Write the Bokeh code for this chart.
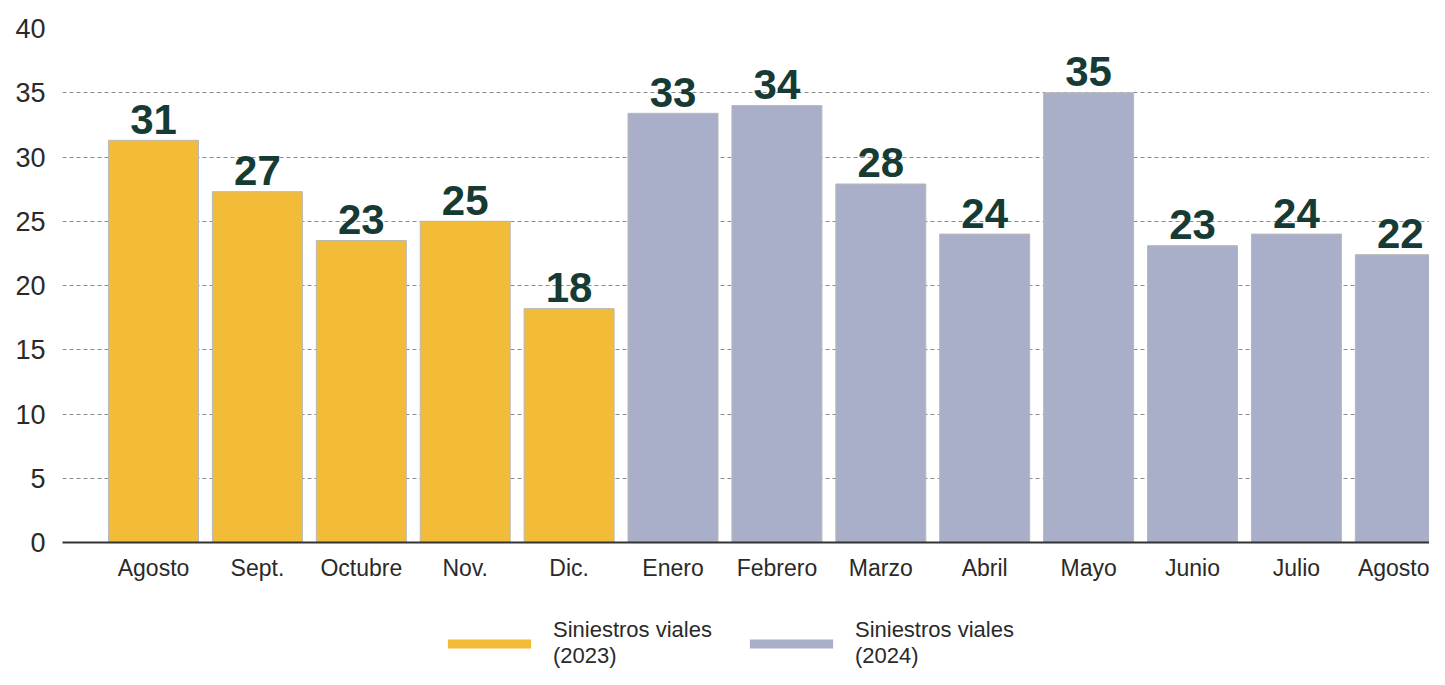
import pandas as pd
from bokeh.plotting import figure
from bokeh.layouts import column
from bokeh.models import ColumnDataSource, Range1d, FixedTicker, Legend, LegendItem
from bokeh.core.properties import value
from bokeh.embed import file_html
from bokeh.resources import INLINE

# ---- data ----
months = ["Agosto", "Sept.", "Octubre", "Nov.", "Dic.", "Enero", "Febrero",
          "Marzo", "Abril", "Mayo", "Junio", "Julio", "Agosto"]
values = [31.3, 27.3, 23.5, 25.0, 18.2, 33.4, 34.0, 27.9, 24.0, 35.0, 23.1, 24.0, 22.4]
value_labels = ["31", "27", "23", "25", "18", "33", "34", "28", "24", "35", "23", "24", "22"]
years = ["2023"] * 5 + ["2024"] * 8
series_order = ["2023", "2024"]
series_names = {"2023": "Siniestros viales\n(2023)", "2024": "Siniestros viales\n(2024)"}
series_colors = {"2023": "#F2BC38", "2024": "#A9AFC8"}
y_ticks = [0, 5, 10, 15, 20, 25, 30, 35, 40]

FONT = "Liberation Sans"
W = 1429

df = pd.DataFrame({
    "x": list(range(len(months))),
    "value": values,
    "label": value_labels,
    "year": years,
})

p = figure(width=W, height=594, output_backend="svg", toolbar_location=None,
           x_range=Range1d(-0.876, 12.281), y_range=Range1d(0, 40),
           min_border_left=62, min_border_right=0, min_border_top=28,
           min_border_bottom=52)
p.outline_line_color = None
p.background_fill_color = "white"
p.border_fill_color = "white"

for yr in series_order:
    src = ColumnDataSource(df[df["year"] == yr])
    p.vbar(x="x", top="value", width=0.866, source=src,
           fill_color=series_colors[yr], line_color="#b8b8b8", line_width=1)

lab_src = ColumnDataSource(df)
p.text(x="x", y="value", text="label", source=lab_src,
       text_align="center", text_baseline="alphabetic", y_offset=-21,
       text_font=value(FONT), text_font_style="bold", text_font_size="42px",
       text_color="#163B35")

# grid
p.xgrid.grid_line_color = None
p.ygrid.ticker = FixedTicker(ticks=y_ticks)
p.ygrid.grid_line_color = "#8c8c8c"
p.ygrid.grid_line_dash = "4 3"
p.ygrid.grid_line_width = 1

# y axis
p.yaxis.ticker = FixedTicker(ticks=y_ticks)
p.yaxis.axis_line_color = None
p.yaxis.major_tick_line_color = None
p.yaxis.minor_tick_line_color = None
p.yaxis.major_tick_in = 0
p.yaxis.major_tick_out = 0
p.yaxis.major_label_standoff = 17
p.yaxis.major_label_text_font = FONT
p.yaxis.major_label_text_font_size = "27px"
p.yaxis.major_label_text_color = "#2a2a2a"

# x axis
p.xaxis.ticker = FixedTicker(ticks=list(range(len(months))))
p.xaxis.major_label_overrides = {i: m for i, m in enumerate(months)}
p.xaxis.axis_line_color = "#333333"
p.xaxis.axis_line_width = 2
p.xaxis.major_tick_line_color = None
p.xaxis.minor_tick_line_color = None
p.xaxis.major_tick_in = 0
p.xaxis.major_tick_out = 0
p.xaxis.major_label_standoff = 12
p.xaxis.major_label_text_font = FONT
p.xaxis.major_label_text_font_size = "23px"
p.xaxis.major_label_text_color = "#2a2a2a"

# ---- legend strip below the chart ----
lg = figure(width=W, height=75, output_backend="svg", toolbar_location=None,
            x_range=Range1d(0, 1), y_range=Range1d(-2, -1),
            x_axis_location=None, y_axis_location=None,
            min_border_left=0, min_border_right=0, min_border_top=0,
            min_border_bottom=0)
lg.outline_line_color = None
lg.xgrid.grid_line_color = None
lg.ygrid.grid_line_color = None
lg_renderers = {}
for yr in series_order:
    # same series, hidden: only their legend swatches show
    lg_renderers[yr] = lg.vbar(x="x", top="value", width=0.866,
                               source=ColumnDataSource(df[df["year"] == yr]),
                               fill_color=series_colors[yr], line_color=None,
                               visible=False)

legend = Legend(items=[LegendItem(label=series_names[yr], renderers=[lg_renderers[yr]])
                       for yr in series_order],
                orientation="horizontal", location=(375, 0),
                glyph_width=104, glyph_height=11, label_standoff=12, spacing=27,
                label_text_font=FONT, label_text_font_size="22px",
                label_text_color="#2a2a2a",
                border_line_color=None, background_fill_alpha=0,
                margin=0, padding=0)
lg.add_layout(legend, "center")

layout = column(p, lg, spacing=0)

open("out.html", "w").write(file_html(layout, INLINE))
